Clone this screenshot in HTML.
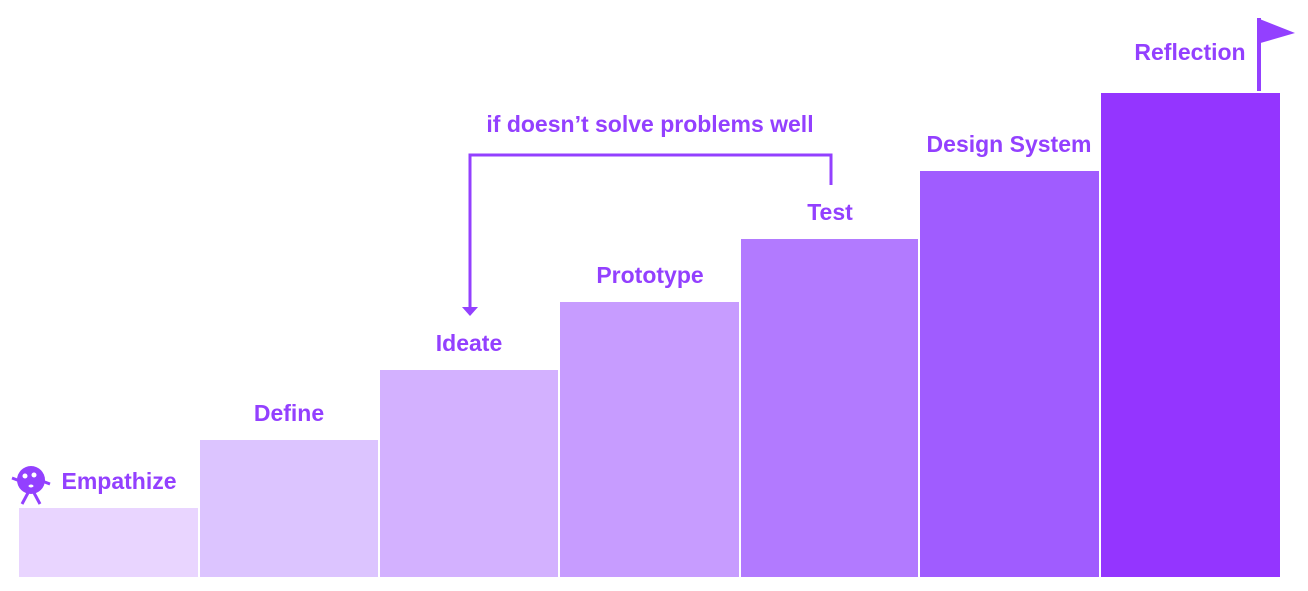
<!DOCTYPE html>
<html><head><style>
body{margin:0;width:1308px;height:591px;background:#fff;position:relative;overflow:hidden;font-family:"Liberation Sans",sans-serif}
.b{position:absolute;bottom:14px}
.t{position:absolute;color:#9340ff;font-weight:bold;font-size:23px;white-space:nowrap;transform:translateX(-50%)}
</style></head><body>
<div class="b" style="left:19px;width:179px;top:508px;background:#e9d5ff"></div>
<div class="b" style="left:200px;width:178px;top:440px;background:#dcc4ff"></div>
<div class="b" style="left:380px;width:178px;top:370px;background:#d3b1ff"></div>
<div class="b" style="left:560px;width:179px;top:302px;background:#c79cff"></div>
<div class="b" style="left:741px;width:177px;top:239px;background:#b27aff"></div>
<div class="b" style="left:920px;width:179px;top:171px;background:#a05cff"></div>
<div class="b" style="left:1101px;width:179px;top:93px;background:#9435ff"></div>
<div class="t" style="left:119px;top:468px">Empathize</div>
<div class="t" style="left:289px;top:400px">Define</div>
<div class="t" style="left:469px;top:330px">Ideate</div>
<div class="t" style="left:650px;top:262px">Prototype</div>
<div class="t" style="left:830px;top:199px">Test</div>
<div class="t" style="left:1009px;top:131px">Design System</div>
<div class="t" style="left:1190px;top:39px">Reflection</div>
<div class="t" style="left:650px;top:111px">if doesn’t solve problems well</div>
<svg width="1308" height="591" style="position:absolute;left:0;top:0">
<polyline points="831,185 831,155 470,155 470,308" fill="none" stroke="#9340ff" stroke-width="3"/>
<polygon points="462,307 478,307 470,316" fill="#9340ff"/>
<rect x="1257" y="18" width="4" height="73" fill="#9340ff"/>
<polygon points="1257,18 1295,33 1257,44" fill="#9340ff"/>
<g fill="#9340ff" stroke="#9340ff">
<circle cx="31" cy="480" r="14" stroke="none"/>
<line x1="12" y1="478" x2="20" y2="481" stroke-width="3"/>
<line x1="42" y1="481" x2="50" y2="484" stroke-width="3"/>
<line x1="29" y1="491" x2="22" y2="504" stroke-width="3"/>
<line x1="33" y1="491" x2="40" y2="504" stroke-width="3"/>
</g>
<circle cx="25" cy="476" r="2.5" fill="#fff"/>
<circle cx="34" cy="475" r="2.5" fill="#fff"/>
<ellipse cx="31" cy="486" rx="2.5" ry="1.5" fill="#fff"/>
</svg>
</body></html>
